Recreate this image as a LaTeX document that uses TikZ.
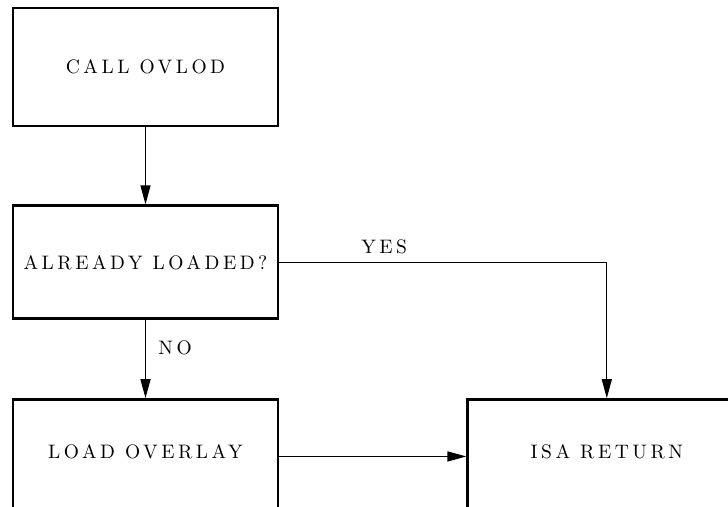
\documentclass[tikz,border=0pt]{standalone}
\usepackage{fontspec}
\usepackage{tikz}
\usetikzlibrary{arrows.meta, positioning}
\newfontfamily\chartfont{lmroman10-regular.otf}[LetterSpace=18]

\begin{document}
\begin{tikzpicture}[x=1pt,y=1pt,
    every node/.style={font=\chartfont\fontsize{19.5}{23}\selectfont},
    box/.style={draw,line width=2.8pt,minimum width=265pt,align=center},
    openbox/.style={box,inner ysep=0pt,text height=59pt,text depth=80pt},
    flow/.style={-{Triangle[length=19pt,width=10pt]},line width=1.3pt}]
  \useasboundingbox (0,0) rectangle (728,-506);
  \clip (0,0) rectangle (728,-506);
  \node[box,minimum height=118pt] (call) at (145.5,-67) {CALL OVLOD};
  \node[box,minimum height=113pt,below=77pt of call] (loaded) {ALREADY LOADED?};
  \node[openbox,below=78pt of loaded] (load) {LOAD OVERLAY};
  \node[openbox,minimum width=278pt,right=187pt of load] (isa) {ISA RETURN};
  \draw[flow] (call)--(loaded);
  \draw[flow] (loaded)--node[right=9pt,pos=0.35]{NO} (load);
  \draw[flow] (loaded.east)-|node[above=4pt,pos=0.16]{YES} (isa.north);
  \draw[flow] (load.mid east)--(isa.mid west);
\end{tikzpicture}
\end{document}
